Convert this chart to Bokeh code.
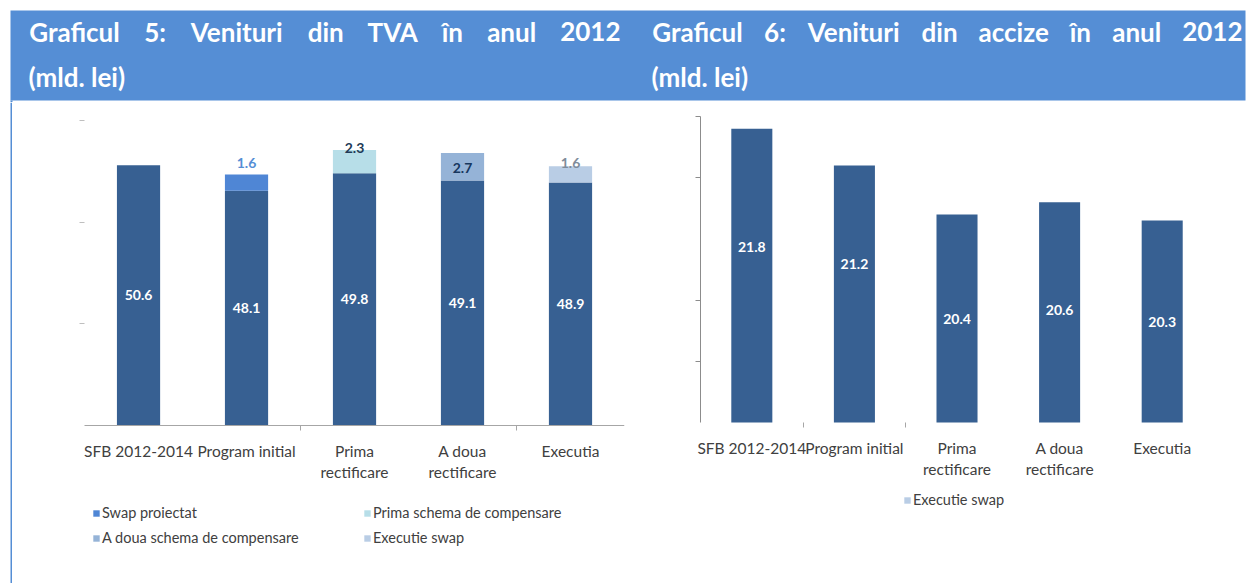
from bokeh.plotting import figure
from bokeh.models import Range1d, FixedTicker, Legend, LegendItem
from bokeh.layouts import column, row
from bokeh.embed import file_html
from bokeh.resources import INLINE
from bokeh.core.properties import value

# ---------------- data ----------------
categories = ["SFB 2012-2014", "Program initial", "Prima\nrectificare", "A doua\nrectificare", "Executia"]

tva_base = [50.6, 48.1, 49.8, 49.1, 48.9]
tva_swap_proiectat = [0, 1.6, 0, 0, 0]
tva_prima_schema = [0, 0, 2.3, 0, 0]
tva_a_doua_schema = [0, 0, 0, 2.7, 0]
tva_executie_swap = [0, 0, 0, 0, 1.6]

accize_base = [21.8, 21.2, 20.4, 20.6, 20.3]
accize_executie_swap = [0, 0, 0, 0, 0]

series_names = ["Swap proiectat", "Prima schema de compensare",
                "A doua schema de compensare", "Executie swap"]

title_left = "Graficul 5: Venituri din TVA în anul 2012"
title_right = "Graficul 6: Venituri din accize în anul 2012"
title_unit = "(mld. lei)"

# ---------------- style ----------------
FONT = "Lato"
HDR_BLUE = "#558ED5"
BASE_COL = "#376092"
SEG_COLS = ["#4F86D5", "#B7DEE8", "#95B3D7", "#B9CDE5"]
SEG_LABEL_COLS = ["#558ED5", "#1F3B57", "#17375E", "#7F8C9A"]
SEG_LABEL_DY = [0, -11, -2, 15, -3]       # pixel nudges per category
ACC_LABEL_DY = [118, 98, 105, 108, 101]   # pixel nudges per category
AX_GREY = "#A6A6A6"
TXT = "#404040"

W, H_HDR, H_BODY = 1248, 102, 481

# axis bases / visible ranges
N = len(categories)
X_EDGE_LO, X_EDGE_HI = -0.5, N - 0.5
X1_LO, X2_LO = -1.167, -1.085
Y1_MIN, Y1_LO, Y1_HI = 25, 9.46, 56.77
Y2_MIN, Y2_TOP, Y2_LO, Y2_HI = 17, 22, 14.37, 22.23

# approximate Lato Bold advance widths (em) for justification
EM = {"G": .73, "r": .39, "a": .52, "f": .34, "i": .26, "c": .47, "u": .57, "l": .26,
      "5": .58, "6": .58, ":": .26, "V": .67, "e": .54, "n": .57, "t": .37, "d": .57,
      "T": .58, "A": .69, "î": .26, "2": .58, "0": .58, "1": .58, "z": .46, "s": .44}


def justify(words, x0, x1, size):
    widths = [sum(EM.get(ch, .52) for ch in w) * size for w in words]
    gap = (x1 - x0 - sum(widths)) / (len(words) - 1)
    centers, x = [], x0
    for wd in widths:
        centers.append(x + wd / 2)
        x += wd + gap
    return centers


# ---------------- header ----------------
hdr = figure(width=W, height=H_HDR, x_range=Range1d(0, W), y_range=Range1d(H_HDR, 0),
             output_backend="svg", toolbar_location=None, min_border=0,
             x_axis_type=None, y_axis_type=None, outline_line_color=None)
hdr.grid.visible = False
hdr.quad(left=10, right=1245, top=10, bottom=100, fill_color=HDR_BLUE, line_color=None)
hdr.quad(left=10, right=12, top=100, bottom=H_HDR, fill_color=HDR_BLUE, line_color=None)

TSIZE = 26
for ttl, x0, x1 in [(title_left, 28, 620), (title_right, 651, 1242)]:
    words = ttl.split(" ")
    xs = justify(words, x0, x1, TSIZE)
    hdr.text(x=xs, y=[31] * len(words), text=words, text_font=value(FONT),
             text_font_style="bold", text_font_size=f"{TSIZE}px", text_color="white",
             text_align="center", text_baseline="middle")
    hdr.text(x=[x0], y=[76], text=[title_unit], text_font=value(FONT),
             text_font_style="bold", text_font_size=f"{TSIZE}px", text_color="white",
             text_align="left", text_baseline="middle")

# ---------------- left blue rule ----------------
strip = figure(width=12, height=H_BODY, x_range=Range1d(0, 12), y_range=Range1d(0, 1),
               output_backend="svg", toolbar_location=None, min_border=0,
               x_axis_type=None, y_axis_type=None, outline_line_color=None)
strip.grid.visible = False
strip.quad(left=10, right=12, bottom=0, top=1, fill_color=HDR_BLUE, line_color=None)

x_idx = list(range(N))
labels_map = {i: c for i, c in enumerate(categories)}


def style_common(p, base):
    p.xgrid.visible = False
    p.ygrid.visible = False
    p.xaxis.fixed_location = base
    p.xaxis.bounds = (X_EDGE_LO, X_EDGE_HI)
    p.xaxis.major_label_overrides = labels_map
    p.xaxis.major_tick_line_color = None
    p.xaxis.major_tick_out = 0
    p.xaxis.major_tick_in = 0
    p.xaxis.minor_tick_line_color = AX_GREY
    p.xaxis.minor_tick_out = 5
    p.xaxis.minor_tick_in = 0
    p.xaxis.major_label_standoff = 11
    p.xaxis.major_label_text_font = FONT
    p.xaxis.major_label_text_font_size = "15.5px"
    p.xaxis.major_label_text_color = TXT
    p.yaxis.fixed_location = X_EDGE_LO
    p.yaxis.major_label_text_alpha = 0
    p.yaxis.major_tick_in = 0
    p.yaxis.major_tick_out = 5
    p.yaxis.minor_tick_line_color = None


def make_legend(items, loc, ncols=1, label_width=20):
    return Legend(items=items, location=loc, orientation="horizontal", ncols=ncols,
                  border_line_color=None, background_fill_alpha=0,
                  label_text_font=FONT, label_text_font_size="14.5px", label_text_color=TXT,
                  glyph_width=8, glyph_height=8, label_standoff=2, label_height=14,
                  label_width=label_width, spacing=8, padding=2, margin=0)


# ---------------- left chart (TVA) ----------------
p1 = figure(width=628, height=H_BODY, x_range=Range1d(X1_LO, X_EDGE_HI),
            y_range=Range1d(Y1_LO, Y1_HI), output_backend="svg", toolbar_location=None,
            min_border_left=0, min_border_right=16, min_border_top=0, min_border_bottom=0,
            outline_line_color=None)
p1.vbar(x=x_idx, bottom=Y1_MIN, top=tva_base, width=0.4, fill_color=BASE_COL, line_color=None)

seg_series = [tva_swap_proiectat, tva_prima_schema, tva_a_doua_schema, tva_executie_swap]
seg_renderers = []
for k, ser in enumerate(seg_series):
    tops = [b + s for b, s in zip(tva_base, ser)]
    r = p1.vbar(x=x_idx, bottom=tva_base, top=tops, width=0.4,
                fill_color=SEG_COLS[k], line_color=None)
    seg_renderers.append(r)

style_common(p1, Y1_MIN)
p1.xaxis.ticker = FixedTicker(ticks=x_idx, minor_ticks=[1.5, 3.5])
p1.xaxis.axis_line_color = AX_GREY
p1.yaxis.ticker = FixedTicker(ticks=[35, 45, 55])
p1.yaxis.axis_line_color = None
p1.yaxis.major_tick_line_color = "#BFBFBF"

p1.text(x=x_idx, y=[(Y1_MIN + v) / 2 for v in tva_base], text=[f"{v:.1f}" for v in tva_base],
        text_font=value(FONT), text_font_style="bold", text_font_size="14px",
        text_color="white", text_align="center", text_baseline="middle")

for k, ser in enumerate(seg_series):
    for i, v in enumerate(ser):
        if v > 0:
            p1.text(x=[i], y=[tva_base[i] + v], text=[f"{v:.1f}"], y_offset=SEG_LABEL_DY[i],
                    text_font=value(FONT), text_font_style="bold", text_font_size="14px",
                    text_color=SEG_LABEL_COLS[k], text_align="center", text_baseline="middle")

items1 = [LegendItem(label=n, renderers=[r]) for n, r in zip(series_names, seg_renderers)]
p1.add_layout(make_legend(items1, (80, 37), ncols=2, label_width=253))

# ---------------- right chart (accize) ----------------
p2 = figure(width=608, height=H_BODY, x_range=Range1d(X2_LO, X_EDGE_HI),
            y_range=Range1d(Y2_LO, Y2_HI), output_backend="svg", toolbar_location=None,
            min_border_left=0, min_border_right=35, min_border_top=0, min_border_bottom=0,
            outline_line_color=None)
p2.vbar(x=x_idx, bottom=Y2_MIN, top=accize_base, width=0.4, fill_color=BASE_COL, line_color=None)
acc_tops = [b + s for b, s in zip(accize_base, accize_executie_swap)]
r_acc_swap = p2.vbar(x=x_idx, bottom=accize_base, top=acc_tops, width=0.4,
                     fill_color=SEG_COLS[3], line_color=None)

style_common(p2, Y2_MIN)
p2.xaxis.ticker = FixedTicker(ticks=x_idx, minor_ticks=[0.5, 1.5])
p2.xaxis.axis_line_color = None
p2.yaxis.ticker = FixedTicker(ticks=[18, 19, 21, 22])
p2.yaxis.bounds = (Y2_MIN, Y2_TOP)
p2.yaxis.axis_line_color = "#8C8C8C"
p2.yaxis.major_tick_line_color = "#8C8C8C"

p2.text(x=x_idx, y=accize_base, text=[f"{v:.1f}" for v in accize_base], y_offset=ACC_LABEL_DY,
        text_font=value(FONT), text_font_style="bold", text_font_size="14px",
        text_color="white", text_align="center", text_baseline="middle")

p2.add_layout(make_legend([LegendItem(label=series_names[3], renderers=[r_acc_swap])],
                          (263, 75), label_width=20))

layout = column(hdr, row(strip, p1, p2))
open("out.html", "w").write(file_html(layout, INLINE))
